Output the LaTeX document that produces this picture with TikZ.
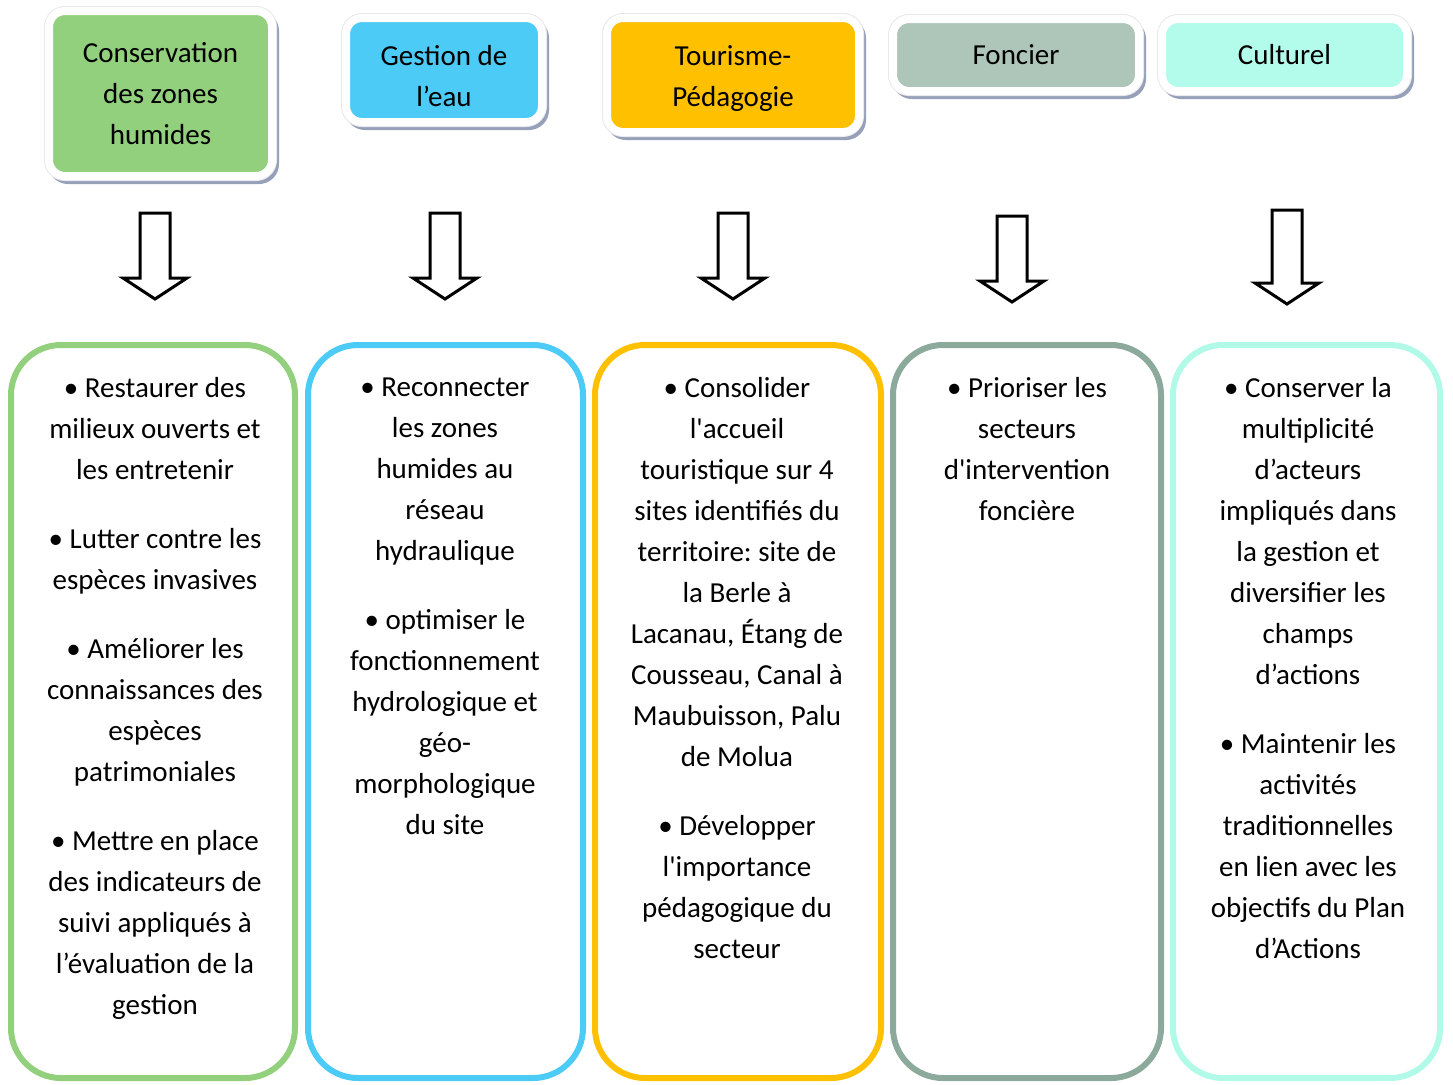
\documentclass[tikz,border=0pt]{standalone}
\usepackage{fontspec}
\setmainfont{Carlito}[Ligatures=TeXOff]
\usepackage{tikz}
\frenchspacing
\definecolor{cgreen}{RGB}{146,208,125}
\definecolor{cblue}{RGB}{75,203,245}
\definecolor{cgold}{RGB}{255,192,0}
\definecolor{csage}{RGB}{174,197,186}
\definecolor{csagedark}{RGB}{140,170,155}
\definecolor{cmint}{RGB}{179,252,236}
\definecolor{cmintdark}{RGB}{178,250,232}
\definecolor{shadowc}{RGB}{150,160,185}
\definecolor{rimc}{RGB}{232,232,236}
\tikzstyle{head}=[draw=white, line width=4pt, rounded corners=8pt, inner sep=0pt, align=center,
  font=\fontsize{14.5}{20.5}\selectfont,
  preaction={draw=shadowc, line width=4pt, transform canvas={shift={(1.5pt,-2pt)}}},
  preaction={draw=rimc, line width=5pt}]
\tikzstyle{panel}=[draw, line width=3pt, rounded corners=25pt, inner sep=0pt, minimum height=366.5pt]
\tikzstyle{items}=[anchor=north, align=center, inner sep=0pt, font=\fontsize{14.5}{20.5}\selectfont]
\tikzstyle{blockarrow}=[draw, line width=1.5pt, fill=white, line join=miter]

\begin{document}
\begin{tikzpicture}[x=0.5pt, y=-0.5pt]
\useasboundingbox (0,0) rectangle (1453,1084);
% headers
\node [head, fill=cgreen, minimum width=111.5pt, minimum height=82.5pt] (Hcons) at (160.5,93.5) {Conservation\\des zones\\humides};
\node [head, fill=cblue, minimum width=98pt, minimum height=52pt] (Heau) at (444,70) {\rule{0pt}{16pt}Gestion de\\l’eau};
\node [head, fill=cgold, minimum width=126pt, minimum height=57pt] (Htour) at (733,75) {\rule{0pt}{13pt}Tourisme-\\Pédagogie};
\node [head, fill=csage, minimum width=123pt, minimum height=36pt] (Hfonc) at (1016,55) {Foncier};
\node [head, fill=cmint, minimum width=122.5pt, minimum height=36pt] (Hcult) at (1284.5,55) {Culturel};
% block arrows
\foreach \x/\t/\b in {155/213/299, 445/213/299, 733/213/299, 1012/216/302, 1287/210/304}
  \draw [blockarrow] (\x-15,\t) -- (\x+15,\t) -- (\x+15,\b-21) -- (\x+32,\b-21) -- (\x,\b)
    -- (\x-32,\b-21) -- (\x-15,\b-21) -- cycle;
% panels
\node [panel, draw=cgreen, minimum width=142pt] (Pcons) at (153,711.5) {};
\node [panel, draw=cblue, minimum width=137.5pt] (Peau) at (445.5,711.5) {};
\node [panel, draw=cgold, minimum width=143pt] (Ptour) at (738,711.5) {};
\node [panel, draw=csagedark, minimum width=134pt] (Pfonc) at (1027,711.5) {};
\node [panel, draw=cmintdark, minimum width=133.5pt] (Pcult) at (1306.5,711.5) {};
% panel texts
\node [items] (Tcons) at (155,377) {• Restaurer des\\milieux ouverts et\\les entretenir\\[14pt]
  • Lutter contre les\\espèces invasives\\[14pt]
  • Améliorer les\\connaissances des\\espèces\\patrimoniales\\[14pt]
  • Mettre en place\\des indicateurs de\\suivi appliqués à\\l’évaluation de la\\gestion};
\node [items] (Teau) at (445,377) {• Reconnecter\\les zones\\humides au\\réseau\\hydraulique\\[14pt]
  • optimiser le\\fonctionnement\\hydrologique et\\géo-\\morphologique\\du site};
\node [items] (Ttour) at (737,377) {• Consolider\\l'accueil\\touristique sur 4\\sites identifiés du\\territoire: site de\\la Berle à\\Lacanau, Étang de\\Cousseau, Canal à\\Maubuisson, Palu\\de Molua\\[14pt]
  • Développer\\l'importance\\pédagogique du\\secteur};
\node [items] (Tfonc) at (1027,377) {• Prioriser les\\secteurs\\d'intervention\\foncière};
\node [items] (Tcult) at (1308,377) {• Conserver la\\multiplicité\\d’acteurs\\impliqués dans\\la gestion et\\diversifier les\\champs\\d’actions\\[14pt]
  • Maintenir les\\activités\\traditionnelles\\en lien avec les\\objectifs du Plan\\d’Actions};
\end{tikzpicture}
\end{document}
